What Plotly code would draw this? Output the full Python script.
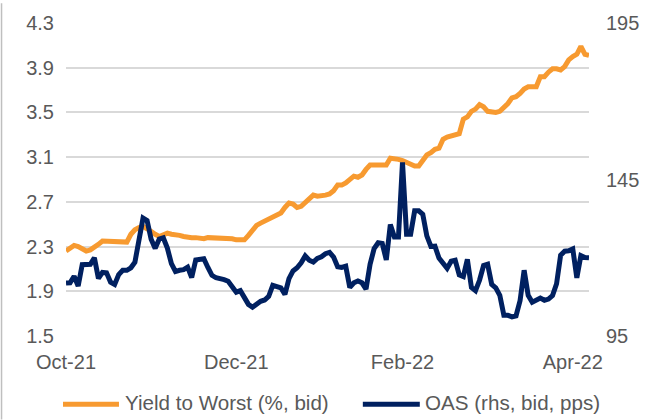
import pandas as pd
import plotly.graph_objects as go

# ---- data ----
holidays = ["2021-11-25", "2021-12-24", "2021-12-31", "2022-01-17", "2022-02-21"]
dates = [d.strftime("%Y-%m-%d") for d in
         pd.bdate_range("2021-10-01", "2022-04-07", freq="C", holidays=holidays)]

tick_vals = ["2021-10-01", "2021-12-01", "2022-02-01", "2022-04-01"]
tick_text = ["Oct-21", "Dec-21", "Feb-22", "Apr-22"]

ytw = [
    2.26, 2.29, 2.31, 2.30, 2.28, 2.26, 2.27, 2.29, 2.32, 2.35,
    2.35, 2.35, 2.35, 2.35, 2.34, 2.34, 2.41, 2.45, 2.47, 2.48,
    2.46, 2.43, 2.41, 2.39, 2.41, 2.42, 2.41, 2.41, 2.40, 2.39,
    2.38, 2.38, 2.38, 2.37, 2.37, 2.38, 2.38, 2.38, 2.38, 2.38,
    2.38, 2.37, 2.36, 2.36, 2.36, 2.40, 2.44, 2.49, 2.51, 2.53,
    2.54, 2.57, 2.59, 2.60, 2.65, 2.69, 2.68, 2.65, 2.66, 2.69,
    2.73, 2.76, 2.75, 2.75, 2.76, 2.77, 2.80, 2.85, 2.85, 2.87,
    2.90, 2.93, 2.92, 2.94, 2.99, 3.03, 3.03, 3.03, 3.03, 3.03,
    3.09, 3.09, 3.08, 3.07, 3.05, 3.04, 3.02, 3.02, 3.07, 3.12,
    3.14, 3.17, 3.18, 3.26, 3.28, 3.29, 3.29, 3.31, 3.44, 3.46,
    3.51, 3.53, 3.57, 3.55, 3.51, 3.50, 3.50, 3.51, 3.54, 3.58,
    3.63, 3.64, 3.67, 3.71, 3.73, 3.73, 3.73, 3.82, 3.82, 3.86,
    3.89, 3.89, 3.88, 3.91, 3.97, 4.00, 4.02, 4.09, 4.02, 4.01,
]

oas = [
    111.9, 112.0, 114.1, 111.0, 117.8, 117.9, 117.9, 120.0, 113.4, 115.3,
    115.2, 112.2, 111.5, 114.6, 116.0, 116.0, 116.8, 118.6, 125.0, 132.7,
    131.9, 125.9, 123.0, 126.0, 126.4, 123.1, 118.1, 115.6, 116.0, 116.2,
    117.0, 113.7, 119.3, 119.5, 119.7, 116.9, 114.4, 113.6, 113.4, 113.0,
    112.5, 110.7, 109.0, 109.5, 107.2, 105.1, 104.2, 105.3, 106.1, 106.5,
    107.7, 111.2, 110.8, 110.4, 108.3, 113.3, 115.8, 116.8, 118.4, 120.6,
    119.2, 118.6, 119.8, 120.3, 121.3, 121.7, 120.2, 117.1, 116.9, 117.3,
    110.5, 112.0, 112.6, 112.0, 110.0, 117.9, 122.9, 124.8, 124.6, 119.3,
    130.6, 126.6, 126.6, 150.5, 127.5, 127.5, 135.0, 135.0, 133.9, 127.0,
    123.6, 123.7, 119.9, 118.5, 116.6, 118.9, 119.2, 114.5, 114.0, 119.5,
    110.5, 109.5, 112.8, 117.5, 117.9, 111.5, 110.4, 108.0, 101.6, 101.6,
    101.1, 101.4, 106.3, 116.0, 108.0, 105.8, 106.4, 107.1, 106.4, 106.8,
    107.9, 111.7, 120.8, 122.1, 122.2, 122.8, 113.6, 120.7, 120.1, 120.0,
]

series_names = ["Yield to Worst (%, bid)", "OAS (rhs, bid, pps)"]
ORANGE = "#F79A30"
NAVY = "#002060"
TXT = "#595959"
FONT = "Liberation Sans, Arial, sans-serif"
FS = 20
FS_LEG = 20.6

W, H = 658, 420
L, R, T, B = 66, 68.7, 20, 84.3
pw, ph = W - L - R, H - T - B


def px_x(x):
    return (x - L) / pw


def px_y(y):
    return (H - B - y) / ph


fig = go.Figure()
fig.add_trace(go.Scatter(x=dates, y=ytw, mode="lines", name=series_names[0],
                         line=dict(color=ORANGE, width=5), yaxis="y"))
fig.add_trace(go.Scatter(x=dates, y=oas, mode="lines", name=series_names[1],
                         line=dict(color=NAVY, width=5), yaxis="y2"))

fig.update_layout(
    width=W, height=H,
    margin=dict(l=L, r=R, t=T, b=B),
    paper_bgcolor="white", plot_bgcolor="white",
    showlegend=False,
    font=dict(family=FONT, size=FS, color=TXT),
    xaxis=dict(type="category", range=[0, len(dates) - 1],
               tickmode="array", tickvals=tick_vals, ticktext=tick_text,
               showgrid=False, showline=False, zeroline=False,
               ticks="", ticklabelstandoff=12,
               tickfont=dict(size=FS, color=TXT, family=FONT)),
    yaxis=dict(range=[1.5, 4.3], dtick=0.4, tick0=1.5, tickformat=".1f",
               showgrid=True, gridcolor="#D9D9D9", gridwidth=1.5,
               zeroline=False, showline=False, ticks="",
               ticklabelstandoff=11,
               tickfont=dict(size=FS, color=TXT, family=FONT)),
    yaxis2=dict(range=[95, 195], dtick=50, tick0=95, overlaying="y", side="right",
                showgrid=False, zeroline=False, showline=False, ticks="",
                ticklabelstandoff=16,
                tickfont=dict(size=FS, color=TXT, family=FONT)),
)

# left chart border
fig.add_shape(type="line", xref="paper", yref="paper",
              x0=px_x(1.5), x1=px_x(1.5), y0=px_y(0), y1=px_y(H),
              line=dict(color="#BFBFBF", width=1.5))

# manual legend
legend_items = [(series_names[0], ORANGE, 63, 119, 123),
                (series_names[1], NAVY, 363, 420, 423)]
for name, col, x0, x1, xt in legend_items:
    fig.add_shape(type="line", xref="paper", yref="paper",
                  x0=px_x(x0), x1=px_x(x1), y0=px_y(404.5), y1=px_y(404.5),
                  line=dict(color=col, width=5))
    fig.add_annotation(xref="paper", yref="paper", x=px_x(xt), y=px_y(403),
                       text=name, showarrow=False, xanchor="left", yanchor="middle",
                       font=dict(size=FS_LEG, color=TXT, family=FONT))

fig.write_html("out.html", config={"displayModeBar": False},
               post_script="document.body.style.margin='0';document.body.style.overflow='hidden';")
